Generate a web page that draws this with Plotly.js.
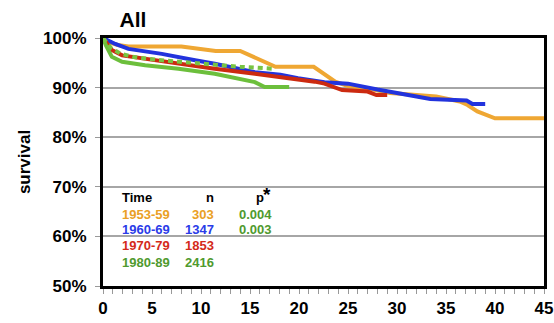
<!DOCTYPE html>
<html>
<head>
<meta charset="utf-8">
<script src="https://cdn.plot.ly/plotly-3.0.1.min.js"></script>
<style>html,body{margin:0;padding:0;background:#fff;}#chart{width:554px;height:323px;}</style>
</head>
<body>
<div id="chart"></div>
<script>
// ---- data (years of follow-up vs. survival %) ----
const years1953 = [0,0.5,1.5,2.6,8,10.5,11.5,14,16,17.6,21.5,22.6,23.7,25,27,29.3,32.8,34,36.4,37.2,38.2,40,45];
const surv1953  = [100,99.2,98.6,98.3,98.3,97.8,97.4,97.4,95.5,94.2,94.2,92.8,91.2,90.3,89.8,88.9,88.4,88.2,87.2,86.5,85.2,83.8,83.8];

const years1960 = [0,1.25,2.6,6,9.4,11.4,15.5,18.1,19.9,22.6,25,25.9,28,30,33.4,37.1,37.7,39];
const surv1960  = [100,98.8,97.8,96.8,95.5,94.8,93.1,92.6,91.9,91.1,90.8,90.5,89.6,88.9,87.7,87.4,86.7,86.7];

const years1970 = [0,0.9,1.95,4.3,7.7,11.4,15.5,18,21.6,22.6,24.4,27,27.9,29];
const surv1970  = [100,97.6,96.5,95.8,94.8,93.8,92.8,92.2,91.2,90.8,89.5,89.2,88.5,88.5];

const years1980 = [0,0.3,0.9,1.95,4.3,7.7,11.4,15.5,16.5,19];
const surv1980  = [100,98.5,96.2,95.2,94.5,93.8,92.8,91.1,90.1,90.1];

const yearsRef  = [0,0.8,1.75,3,5.5,8.9,11.4,14,17.4];
const survRef   = [100,98,96.9,96.2,95.6,95,94.6,94.2,93.8];

const periods = ["1953-59","1960-69","1970-79","1980-89"];
const counts  = ["303","1347","1853","2416"];
const pvals   = ["0.004","0.003","",""];

const xTicks = [0,5,10,15,20,25,30,35,40,45];
const yTicks = [50,60,70,80,90,100];

// ---- styling ----
const lineCols = ["#efa733","#2233dd","#cc2a10","#6cbf3c"];
const textCols = ["#eaa025","#2a3ce8","#d42a1a","#4f9a2e"];
const pCol = "#4f9a2e";

function tr(x,y,c,dash){
  return {x:x,y:y,type:'scatter',mode:'lines',line:{color:c,width:4,dash:dash||'solid'},hoverinfo:'skip',showlegend:false};
}
const traces = [
  tr(years1953,surv1953,lineCols[0]),
  tr(years1960,surv1960,lineCols[1]),
  tr(years1970,surv1970,lineCols[2]),
  tr(years1980,surv1980,lineCols[3]),
  tr(yearsRef,survRef,"#78c442","5px,4px")
];

const F = "Liberation Sans, Arial, sans-serif";
const ann = [];
const rowY = [64.5,61.3,58.1,54.8];
ann.push({x:1.73,y:67.9,text:"<b>Time</b>",xanchor:'left',font:{color:'#000'}});
ann.push({x:11.5,y:67.9,text:"<b>n</b>",xanchor:'right',font:{color:'#000'}});
ann.push({x:16.0,y:67.9,text:"<b>p</b>",xanchor:'center',font:{color:'#000'}});
ann.push({x:16.75,y:68.4,text:"<b>*</b>",xanchor:'center',font:{color:'#000',size:19}});
for(let i=0;i<periods.length;i++){
  ann.push({x:1.73,y:rowY[i],text:"<b>"+periods[i]+"</b>",xanchor:'left',font:{color:textCols[i]}});
  ann.push({x:11.5,y:rowY[i],text:"<b>"+counts[i]+"</b>",xanchor:'right',font:{color:textCols[i]}});
  if(pvals[i]) ann.push({x:13.7,y:rowY[i],text:"<b>"+pvals[i]+"</b>",xanchor:'left',font:{color:pCol}});
}
ann.forEach(a=>{a.xref='x';a.yref='y';a.showarrow=false;a.yanchor='middle';a.font=Object.assign({family:F,size:13},a.font);});

const layout = {
  width:554,height:323,
  margin:{l:103,r:10,t:38,b:37},
  paper_bgcolor:'#fff',plot_bgcolor:'#fff',
  font:{family:F,color:'#000'},
  title:{text:"<b>All</b>",x:133/554,xanchor:'center',y:1-20/323,yanchor:'middle',font:{size:21,family:F,color:'#000'}},
  xaxis:{range:[0,45],tickvals:xTicks,showgrid:false,zeroline:false,
    showline:true,linecolor:'#000',linewidth:3,mirror:true,
    ticks:'outside',ticklen:5,tickwidth:1,tickcolor:'#999',
    minor:{dtick:1,ticks:'outside',ticklen:5,tickwidth:1,tickcolor:'#999'},
    tickfont:{size:17,family:F,color:'#000'},fixedrange:true},
  yaxis:{range:[50,100],tickvals:yTicks,ticktext:yTicks.map(v=>"<b>"+v+"%</b>"),
    showgrid:true,gridcolor:'#a6a6a6',gridwidth:2,zeroline:false,
    showline:true,linecolor:'#000',linewidth:3,mirror:true,
    ticks:'outside',ticklen:5,tickwidth:1,tickcolor:'#999',ticklabelstandoff:5,
    tickfont:{size:17,family:F,color:'#000'},
    title:{text:"<b>survival</b>",font:{size:17,family:F,color:'#000'},standoff:9},fixedrange:true},
  annotations:ann,
  showlegend:false
};
layout.xaxis.ticktext = xTicks.map(v=>"<b>"+v+"</b>");
Plotly.newPlot('chart',traces,layout,{staticPlot:true,displayModeBar:false});
</script>
</body>
</html>
